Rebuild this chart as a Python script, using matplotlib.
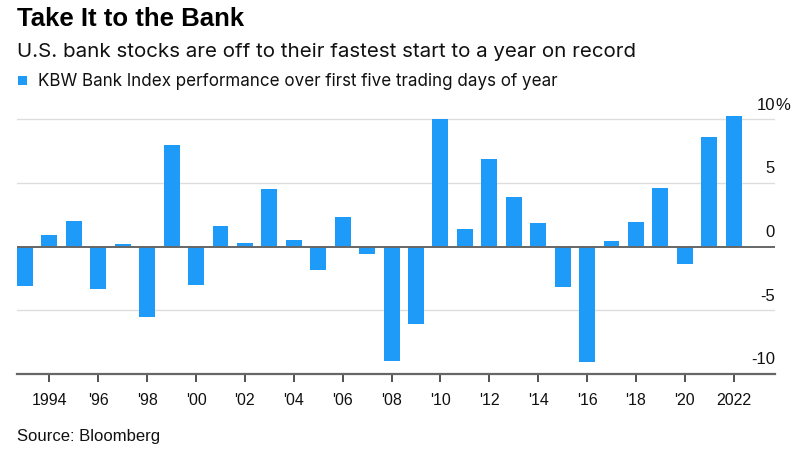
import matplotlib
matplotlib.use("Agg")
import matplotlib.pyplot as plt
import matplotlib.transforms as mtransforms
from matplotlib.patches import Rectangle

plt.rcParams['font.family'] = ['Liberation Sans', 'DejaVu Sans']

years = list(range(1993, 2023))
values = [-3.1, 0.9, 2.0, -3.3, 0.2, -5.55, 8.0, -3.0, 1.65, 0.3,
          4.5, 0.55, -1.85, 2.35, -0.6, -9.0, -6.05, 10.05, 1.35, 6.9,
          3.9, 1.85, -3.2, -9.05, 0.4, 1.95, 4.6, -1.35, 8.6, 10.25]
tick_years = list(range(1994, 2023, 2))
tick_labels = ["1994", "'96", "'98", "'00", "'02", "'04", "'06", "'08", "'10",
               "'12", "'14", "'16", "'18", "'20", "2022"]
y_ticks = [-10, -5, 0, 5, 10]
y_labels = ["-10", "-5", "0", "5", "10"]

title = "Take It to the Bank"
subtitle = "U.S. bank stocks are off to their fastest start to a year on record"
legend_label = "KBW Bank Index performance over first five trading days of year"
source = "Source: Bloomberg"

bar_color = '#1e9bf8'

W, H = 806, 455
fig = plt.figure(figsize=(W / 100, H / 100), dpi=100)
ax = fig.add_axes([17 / W, (H - 374) / H, (775 - 17) / W, (374 - 98.8) / H])

ax.bar(years, values, width=0.65, color=bar_color, zorder=3)
ax.set_xlim(1993 - 0.327, 2022 + 1.69)
ax.set_ylim(-10, 11.6)

for v in y_ticks:
    if v != -10:
        ax.axhline(v, color='#dddddd' if v != 0 else '#666666',
                   lw=1.0 if v != 0 else 1.4, zorder=1 if v != 0 else 4)

for s in ['top', 'right', 'left']:
    ax.spines[s].set_visible(False)
ax.spines['bottom'].set_color('#666666')
ax.spines['bottom'].set_linewidth(1.6)

ax.set_yticks([])
ax.set_xticks(tick_years)
ax.set_xticklabels(tick_labels, fontsize=11.5, color='#111111')
ax.tick_params(axis='x', length=5.5, width=1.2, color='#333333', pad=8)

trans = mtransforms.blended_transform_factory(ax.transAxes, ax.transData)
lift = mtransforms.ScaledTranslation(0, 9.5 / 100, fig.dpi_scale_trans)
for v, lab in zip(y_ticks, y_labels):
    ax.text(1.0, v, lab, transform=trans + lift,
            ha='right', va='baseline', fontsize=12, color='#111111')
    if v == 10:
        ax.text(1.0, v, "%", transform=trans + lift,
                ha='left', va='baseline', fontsize=12, color='#111111')

fig.text(17 / W, 1 - 26 / H, title, fontsize=18.5, fontweight='bold', ha='left', va='baseline', color='#000000')
fig.text(17 / W, 1 - 56.7 / H, subtitle, fontsize=14.8, family=['Inter', 'DejaVu Sans'],
         ha='left', va='baseline', color='#111111')
fig.patches.append(Rectangle((18 / W, 1 - 85 / H), 9 / W, 9 / H, transform=fig.transFigure,
                             facecolor=bar_color, edgecolor='none'))
fig.text(38 / W, 1 - 86 / H, legend_label, fontsize=12.25, family=['Inter', 'DejaVu Sans'],
         ha='left', va='baseline', color='#111111')
fig.text(17 / W, 1 - 441 / H, source, fontsize=12, ha='left', va='baseline', color='#111111')

fig.savefig("out.png", dpi=100)
